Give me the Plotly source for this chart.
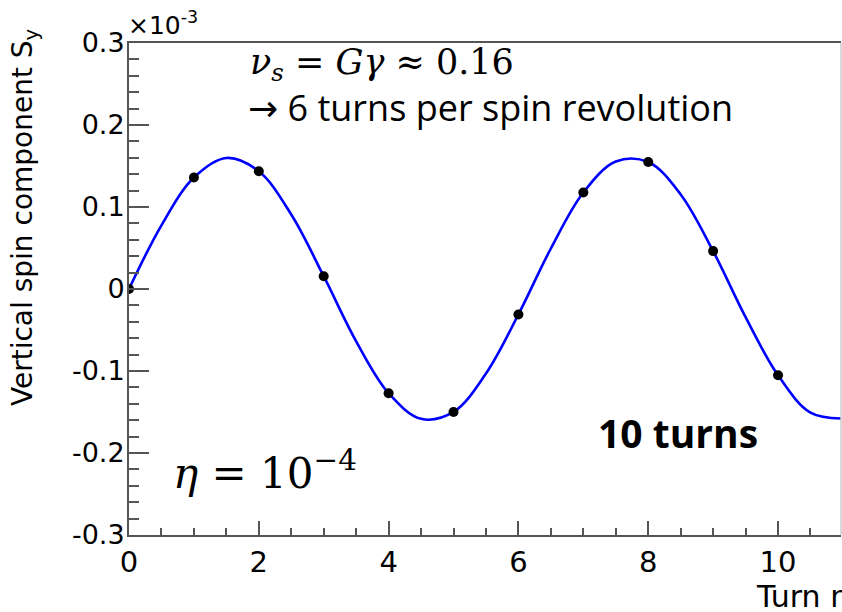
import plotly.graph_objects as go

# Vertical spin component S_y (in units of 1e-3) after each turn
turns = [0, 1, 2, 3, 4, 5, 6, 7, 8, 9, 10]
sy_points = [0.0, 0.1359, 0.1435, 0.0156, -0.1271, -0.1499, -0.0310,
             0.1176, 0.1548, 0.0462, -0.1052]

# Continuous spin precession curve, sampled every half turn
curve_turns = [0.0, 0.5, 1.0, 1.5, 2.0, 2.5, 3.0, 3.5, 4.0, 4.5, 5.0, 5.5,
               6.0, 6.5, 7.0, 7.5, 8.0, 8.5, 9.0, 9.5, 10.0, 10.5, 11.0]
curve_sy = [0.0, 0.0777, 0.1359, 0.1598, 0.1435, 0.0908, 0.0156, -0.0638,
            -0.1271, -0.1583, -0.1499, -0.1031, -0.0310, 0.0494, 0.1176,
            0.1554, 0.1548, 0.1153, 0.0462, -0.0343, -0.1052, -0.1508, -0.1579]

y_ticks = [-0.3, -0.2, -0.1, 0.0, 0.1, 0.2, 0.3]
y_tick_text = ["-0.3", "-0.2", "-0.1", "0", "0.1", "0.2", "0.3"]
x_ticks = [0, 2, 4, 6, 8, 10]

AXIS = "#555555"
SANS = "DejaVu Sans"
SERIF = "DejaVu Serif"

fig = go.Figure()
fig.add_trace(go.Scatter(
    x=curve_turns, y=curve_sy, mode="lines",
    line=dict(color="#0000ff", width=2.6, shape="spline", smoothing=1.0),
    hoverinfo="skip", showlegend=False))
fig.add_trace(go.Scatter(
    x=turns, y=sy_points, mode="markers",
    marker=dict(color="black", size=10), showlegend=False))

fig.update_layout(
    width=842, height=612,
    margin=dict(l=129, r=1, t=43, b=77),
    paper_bgcolor="white", plot_bgcolor="white",
    showlegend=False,
    xaxis=dict(
        range=[0, 10.97], tickvals=x_ticks, ticktext=[str(v) for v in x_ticks],
        ticks="inside", ticklen=14, tickwidth=1.5, tickcolor=AXIS,
        minor=dict(dtick=0.5, tick0=0, ticks="inside", ticklen=7,
                   tickwidth=1.5, tickcolor=AXIS),
        showline=True, linecolor=AXIS, linewidth=2, mirror=True,
        showgrid=False, zeroline=False,
        tickfont=dict(family=SANS, size=29, color="black")),
    yaxis=dict(
        range=[-0.3, 0.3], tickvals=y_ticks, ticktext=y_tick_text,
        ticks="inside", ticklen=20, tickwidth=1.5, tickcolor=AXIS,
        minor=dict(dtick=0.02, tick0=0, ticks="inside", ticklen=10,
                   tickwidth=1.5, tickcolor=AXIS),
        showline=True, linecolor=AXIS, linewidth=2, mirror=False,
        showgrid=False, zeroline=False, ticklabelstandoff=-3,
        tickfont=dict(family=SANS, size=27, color="black")),
)

# light frame on the right-hand edge
fig.add_shape(type="line", xref="paper", yref="paper", x0=1, x1=1, y0=0, y1=1,
              line=dict(color="#cccccc", width=1.5))


def px_x(X):
    return (X - 129) / 712


def px_y(Y):
    return (535 - Y) / 492


annotations = [
    dict(text="×10<sup>-3</sup>", x=px_x(126), y=px_y(42), xanchor="left",
         yanchor="bottom", font=dict(family=SANS, size=25, color="black")),
    dict(text="Vertical spin component S<sub>y</sub>", x=px_x(25), y=px_y(26),
         xanchor="center", yanchor="top", textangle=-90,
         font=dict(family=SANS, size=28, color="black")),
    dict(text="Turn number", x=px_x(754), y=px_y(596), xanchor="left",
         yanchor="middle", font=dict(family=SANS, size=30, color="black")),
    dict(text="<i>ν</i><sub><i>s</i></sub> = <i>Gγ</i> ≈ 0.16", x=px_x(248),
         y=px_y(64), xanchor="left", yanchor="middle",
         font=dict(family=SERIF, size=35, color="black")),
    dict(text='<span style="font-family:DejaVu Sans">→</span> 6 turns per spin revolution',
         x=px_x(246), y=px_y(108),
         xanchor="left", yanchor="middle",
         font=dict(family="Open Sans", size=36, color="black")),
    dict(text="<i>η</i> = 10<sup>−4</sup>", x=px_x(171), y=px_y(470),
         xanchor="left", yanchor="middle",
         font=dict(family=SERIF, size=42, color="black")),
    dict(text="<b>10 turns</b>", x=px_x(596), y=px_y(432), xanchor="left",
         yanchor="middle", font=dict(family="Open Sans", size=39, color="black")),
]
for a in annotations:
    fig.add_annotation(xref="paper", yref="paper", showarrow=False, **a)

fig.write_html("out.html")
